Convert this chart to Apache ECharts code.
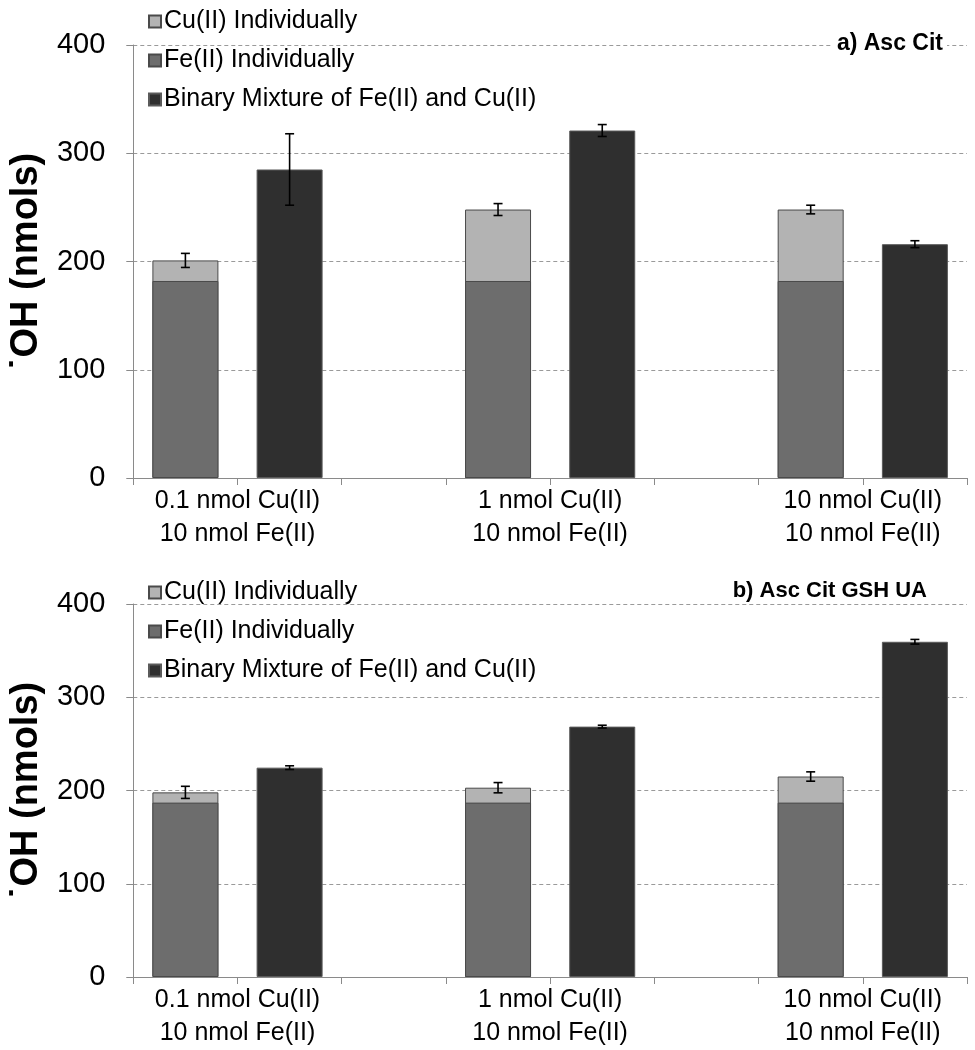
<!DOCTYPE html>
<html><head><meta charset="utf-8">
<script src="https://cdn.jsdelivr.net/npm/echarts@6/dist/echarts.min.js"></script>
<style>html,body{margin:0;padding:0;background:#fff}#c{width:975px;height:1050px}</style>
</head><body><div id="c"></div>
<script>
// ---- data ----
const groupLabels = ['0.1 nmol Cu(II)\n10 nmol Fe(II)', '1 nmol Cu(II)\n10 nmol Fe(II)', '10 nmol Cu(II)\n10 nmol Fe(II)'];
const seriesNames = ['Cu(II) Individually', 'Fe(II) Individually', 'Binary Mixture of Fe(II) and Cu(II)'];
const yTicks = [0, 100, 200, 300, 400];
// slot positions on the x scale (8 slots, gaps at 2 and 5)
const indivPos = [0.5, 3.5, 6.5];
const binaryPos = [1.5, 4.5, 7.5];
const labelPos = [1, 4, 7];

// panel a) Asc Cit  (Cu total = top of the stacked Fe + Cu bar)
const aFe = [182, 182, 182];
const aCuTotal = [201, 248, 248];
const aCuErr = [6.5, 5.5, 4];
const aBinary = [285, 321, 216];
const aBinaryErr = [33, 5.5, 3.2];

// panel b) Asc Cit GSH UA
const bFe = [187, 187, 187];
const bCuTotal = [198, 203, 215];
const bCuErr = [6.5, 5.5, 5];
const bBinary = [224.5, 268.5, 359.5];
const bBinaryErr = [2, 1.5, 2.5];

const titles = ['a) Asc Cit', 'b) Asc Cit GSH UA'];
const yName = '˙OH (nmols)';

// ---- chart ----
const FONT = '"Liberation Sans", Arial, sans-serif';
const colors = {cu: '#b3b3b3', fe: '#6d6d6d', bin: '#2f2f2f'};
const panels = [
  {fe: aFe, cuTot: aCuTotal, cuErr: aCuErr, bin: aBinary, binErr: aBinaryErr, top: 45, height: 433, legendTop: 4, titleTop: 30, titleRight: 28, titleSize: 23},
  {fe: bFe, cuTot: bCuTotal, cuErr: bCuErr, bin: bBinary, binErr: bBinaryErr, top: 604, height: 376, legendTop: 575, titleTop: 578, titleRight: 44, titleSize: 22}
];

const option = {
  backgroundColor: '#fff',
  animation: false,
  textStyle: {fontFamily: FONT},
  title: [], legend: [], grid: [], xAxis: [], yAxis: [], series: []
};

function errRender(params, api) {
  const x = api.value(0), lo = api.value(1), hi = api.value(2);
  const pLo = api.coord([x, lo]), pHi = api.coord([x, hi]);
  const cap = 4.5;
  const st = {stroke: '#000', lineWidth: 1.6};
  return {type: 'group', children: [
    {type: 'line', shape: {x1: pLo[0], y1: pLo[1], x2: pHi[0], y2: pHi[1]}, style: st},
    {type: 'line', shape: {x1: pLo[0] - cap, y1: pLo[1], x2: pLo[0] + cap, y2: pLo[1]}, style: st},
    {type: 'line', shape: {x1: pHi[0] - cap, y1: pHi[1], x2: pHi[0] + cap, y2: pHi[1]}, style: st}
  ]};
}

panels.forEach((p, i) => {
  option.title.push({text: titles[i], right: p.titleRight, top: p.titleTop, backgroundColor: '#fff', padding: [2, 4],
    textStyle: {fontFamily: FONT, fontWeight: 'bold', fontSize: p.titleSize, color: '#000'}});
  option.legend.push({orient: 'vertical', left: 143, top: p.legendTop, itemGap: 14, itemWidth: 12, itemHeight: 12,
    icon: 'rect', data: seriesNames,
    textStyle: {fontFamily: FONT, fontSize: 25, color: '#000', padding: [0, 0, 0, -2]}});
  option.grid.push({left: 132, right: 8, top: p.top, height: p.height});
  option.xAxis.push({type: 'value', gridIndex: i, min: 0, max: 8, interval: 1,
    axisLine: {show: true, lineStyle: {color: '#8a8a8a', width: 1}},
    axisTick: {show: true, length: 7, lineStyle: {color: '#8a8a8a'}},
    splitLine: {show: false},
    axisLabel: {margin: 7, color: '#000', fontSize: 25, lineHeight: 33, fontFamily: FONT,
      formatter: v => { const k = labelPos.indexOf(v); return k >= 0 ? groupLabels[k] : ''; }}});
  option.yAxis.push({type: 'value', gridIndex: i, min: yTicks[0], max: yTicks[yTicks.length - 1], interval: 100,
    name: yName, nameLocation: 'middle', nameGap: 84,
    nameTextStyle: {fontFamily: FONT, fontWeight: 'bold', fontSize: 38, color: '#000'},
    axisLine: {show: true, lineStyle: {color: '#8a8a8a', width: 1}},
    axisTick: {show: true, length: 7, lineStyle: {color: '#8a8a8a'}},
    splitLine: {show: true, lineStyle: {color: '#9a9a9a', type: [4, 3], width: 1}},
    axisLabel: {margin: 28, color: '#000', fontSize: 29, fontFamily: FONT}});

  // Cu(II) part: bar reaching the Fe + Cu total; the Fe bar is drawn over its lower part
  option.series.push({name: seriesNames[0], type: 'bar', xAxisIndex: i, yAxisIndex: i,
    barWidth: 66, barGap: '-100%', z: 2, itemStyle: {color: colors.cu, borderColor: '#4a4a4a', borderWidth: 1},
    data: indivPos.map((x, k) => [x, p.cuTot[k]])});
  option.series.push({name: seriesNames[1], type: 'bar', xAxisIndex: i, yAxisIndex: i,
    barWidth: 66, barGap: '-100%', z: 3, itemStyle: {color: colors.fe, borderColor: '#4a4a4a', borderWidth: 1},
    data: indivPos.map((x, k) => [x, p.fe[k]])});
  option.series.push({name: seriesNames[2], type: 'bar', xAxisIndex: i, yAxisIndex: i,
    barWidth: 66, barGap: '-100%', z: 2, itemStyle: {color: colors.bin, borderColor: '#5a5a5a', borderWidth: 1},
    data: binaryPos.map((x, k) => [x, p.bin[k]])});
  option.series.push({type: 'custom', xAxisIndex: i, yAxisIndex: i, renderItem: errRender, z: 5,
    data: indivPos.map((x, k) => [x, p.cuTot[k] - p.cuErr[k], p.cuTot[k] + p.cuErr[k]])
      .concat(binaryPos.map((x, k) => [x, p.bin[k] - p.binErr[k], p.bin[k] + p.binErr[k]]))});
});

echarts.init(document.getElementById('c')).setOption(option);
</script></body></html>
